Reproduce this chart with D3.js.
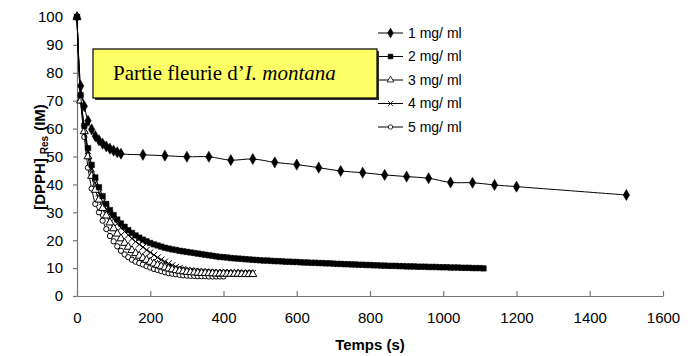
<!DOCTYPE html>
<html>
<head>
<meta charset="utf-8">
<script src="https://cdn.jsdelivr.net/npm/d3@7"></script>
<style>
  body { margin: 0; background: #fff; }
  svg { display: block; }
</style>
</head>
<body>
<div id="chart"></div>
<script>
// sampling times (s)
const t1 = [0,10,20,30,40,50,60,70,80,90,100,110,120,180,240,300,360,420,480,540,600,660,720,780,840,900,960,1020,1080,1140,1200,1500];
const tDense = [0,10,20,30,40,50,60,70,80,90,100,110,120,130,140,150,160,170,180,190,
  200,210,220,230,240,250,260,270,280,290,300,310,320,330,340,350,360,370,380,390,
  400,410,420,430,440,450,460,470,480,490,500,510,520,530,540,550,560,570,580,590,
  600,610,620,630,640,650,660,670,680,690,700,710,720,730,740,750,760,770,780,790,
  800,810,820,830,840,850,860,870,880,890,900,910,920,930,940,950,960,970,980,990,
  1000,1010,1020,1030,1040,1050,1060,1070,1080,1090,1100,1110];

// [DPPH] remaining per concentration
const v1 = [100,75.3,68,62.8,59.7,57.3,55.8,54.6,53.6,52.8,52.1,51.5,51,50.6,50.3,49.9,49.9,48.7,49.1,47.9,47.1,46,44.8,44.2,43.4,42.8,42.2,40.7,40.6,39.8,39.2,36.2];
const v2 = [100,72,61,53,47,42.5,39,35.8,33,30.8,29,27.4,26,24.8,23.6,22.6,21.7,20.9,20.2,19.6,
  19,18.5,18.1,17.7,17.3,17,16.7,16.5,16.2,16,15.8,15.6,15.4,15.2,15,14.8,14.6,14.4,14.2,14,
  13.9,13.8,13.6,13.5,13.4,13.3,13.2,13.1,13,12.9,12.8,12.7,12.7,12.6,12.5,12.5,12.4,12.3,12.3,12.2,
  12.2,12.1,12,12,11.9,11.9,11.8,11.8,11.7,11.7,11.6,11.5,11.5,11.4,11.4,11.3,11.3,11.2,11.2,11.1,
  11.1,11,11,10.9,10.9,10.8,10.8,10.8,10.7,10.7,10.6,10.6,10.6,10.5,10.5,10.5,10.4,10.4,10.4,10.3,
  10.3,10.3,10.2,10.2,10.2,10.1,10.1,10.1,10,10,10,9.9];
const v3 = [100,70,59,50,43,38,34.5,31.5,28.8,26.3,24.2,22.3,20.6,19,17.6,16.4,15.3,14.4,13.6,12.9,
  12.2,11.6,11.1,10.6,10.2,9.8,9.5,9.2,9,8.8,8.6,8.5,8.4,8.3,8.2,8.2,8.1,8.1,8,8,
  8,7.9,7.9,7.9,7.9,7.8,7.8,7.8,7.8];
const v4 = [100,71,60,52,45.5,40.5,36.8,33.7,31.2,29.3,27.6,26,24.5,23.1,21.8,20.6,19.5,18.5,17.5,16.5,
  15.6,14.7,13.8,13,12.3,11.6,11,10.4,10,9.6,9.3,9.1,8.9,8.8,8.7,8.6,8.5,8.5,8.4,8.4,
  8.4,8.3,8.3,8.3,8.3,8.2,8.2,8.2,8.2];
const v5 = [100,70,57,46,38.5,33,30,27,24,21.5,19.6,17.8,16.2,14.9,13.9,13,12.3,11.8,11.3,10.7,
  10.2,9.7,9.3,8.9,8.5,8.2,8,7.8,7.6,7.4,7.3,7.2,7.2,7.1,7.1,7.1,7,7,7,7,7];

const seriesNames = ["1 mg/ ml", "2 mg/ ml", "3 mg/ ml", "4 mg/ ml", "5 mg/ ml"];
const xTicks = [0,200,400,600,800,1000,1200,1400,1600];
const yTicks = [0,10,20,30,40,50,60,70,80,90,100];

const series = [
  { name: seriesNames[0], t: t1, v: v1, sym: d3.symbolDiamond, size: 36, fill: "#000" },
  { name: seriesNames[1], t: tDense, v: v2, sym: d3.symbolSquare, size: 30, fill: "#000" },
  { name: seriesNames[2], t: tDense, v: v3, sym: d3.symbolTriangle, size: 28, fill: "#fff" },
  { name: seriesNames[3], t: tDense, v: v4, sym: d3.symbolTimes, size: 28, fill: "none" },
  { name: seriesNames[4], t: tDense, v: v5, sym: d3.symbolCircle, size: 22, fill: "#fff" }
];

const width = 699, height = 356;
const svg = d3.select("#chart").append("svg")
  .attr("width", width)
  .attr("height", height);

const x = d3.scaleLinear().domain([0, 1600]).range([77, 663]);
const y = d3.scaleLinear().domain([0, 100]).range([296, 17]);

const font = "'Liberation Sans', Arial, sans-serif";

// axes
const yAxis = svg.append("g")
  .attr("transform", `translate(${x(0)},0)`)
  .call(d3.axisLeft(y).tickValues(yTicks).tickSize(4).tickSizeOuter(0).tickPadding(10));
const xAxis = svg.append("g")
  .attr("transform", `translate(0,${y(0)})`)
  .call(d3.axisBottom(x).tickValues(xTicks).tickFormat(d3.format("d"))
    .tickSizeInner(-5).tickSizeOuter(0).tickPadding(16));

[xAxis, yAxis].forEach(g => {
  g.select(".domain").attr("stroke", "#777").attr("stroke-width", 1.2);
  g.selectAll(".tick line").attr("stroke", "#777").attr("stroke-width", 1.2);
  g.selectAll(".tick text")
    .attr("fill", "#000")
    .style("font-family", font)
    .style("font-size", "15px");
});

// series lines + markers
const line = d3.line()
  .x(d => x(d[0]))
  .y(d => y(d[1]))
  .curve(d3.curveCatmullRom.alpha(0.5));

series.slice().reverse().forEach(s => {
  const pts = s.v.map((v, i) => [s.t[i], v]);
  svg.append("path")
    .datum(pts)
    .attr("d", line)
    .attr("fill", "none")
    .attr("stroke", "#000")
    .attr("stroke-width", 1);

  svg.append("g").selectAll("path")
    .data(pts)
    .join("path")
    .attr("transform", d => `translate(${x(d[0])},${y(d[1])})`)
    .attr("d", d3.symbol().type(s.sym).size(s.size))
    .attr("fill", s.fill)
    .attr("stroke", "#000")
    .attr("stroke-width", s.fill === "#000" ? 0.5 : 1);
});

// legend
const legend = svg.append("g").attr("transform", "translate(378,33)");
series.forEach((s, i) => {
  const row = legend.append("g").attr("transform", `translate(0,${i * 23.5})`);
  row.append("line")
    .attr("x1", 0).attr("x2", 25)
    .attr("stroke", "#000").attr("stroke-width", 1);
  row.append("path")
    .attr("transform", "translate(12.5,0)")
    .attr("d", d3.symbol().type(s.sym).size(s.size * 0.7))
    .attr("fill", s.fill)
    .attr("stroke", "#000")
    .attr("stroke-width", 0.8);
  row.append("text")
    .attr("x", 30)
    .attr("dy", "0.35em")
    .text(s.name)
    .style("font-family", font)
    .style("font-size", "14px");
});

// title box
svg.append("rect")
  .attr("x", 95).attr("y", 51)
  .attr("width", 284).attr("height", 49)
  .attr("fill", "#333");
svg.append("rect")
  .attr("x", 93).attr("y", 49)
  .attr("width", 284).attr("height", 49)
  .attr("fill", "#ffff66")
  .attr("stroke", "#000")
  .attr("stroke-width", 1.2);
const title = svg.append("text")
  .attr("x", 113).attr("y", 80)
  .style("font-family", "'Liberation Serif', 'Times New Roman', serif")
  .style("font-size", "21px")
  .attr("fill", "#000");
title.append("tspan").text("Partie fleurie d\u2019");
title.append("tspan").style("font-style", "italic").text("I. montana");

// axis titles
svg.append("text")
  .attr("x", x(800)).attr("y", 350)
  .attr("text-anchor", "middle")
  .style("font-family", font)
  .style("font-size", "15px")
  .style("font-weight", "bold")
  .text("Temps (s)");

const yl = svg.append("text")
  .attr("transform", "translate(45,157) rotate(-90)")
  .attr("text-anchor", "middle")
  .style("font-family", font)
  .style("font-size", "15px")
  .style("font-weight", "bold");
yl.append("tspan").text("[DPPH]");
yl.append("tspan").attr("dx", 4).attr("dy", 3).style("font-size", "10px").text("Res");
yl.append("tspan").attr("dx", 5).attr("dy", -3).text("(IM)");
</script>
</body>
</html>
